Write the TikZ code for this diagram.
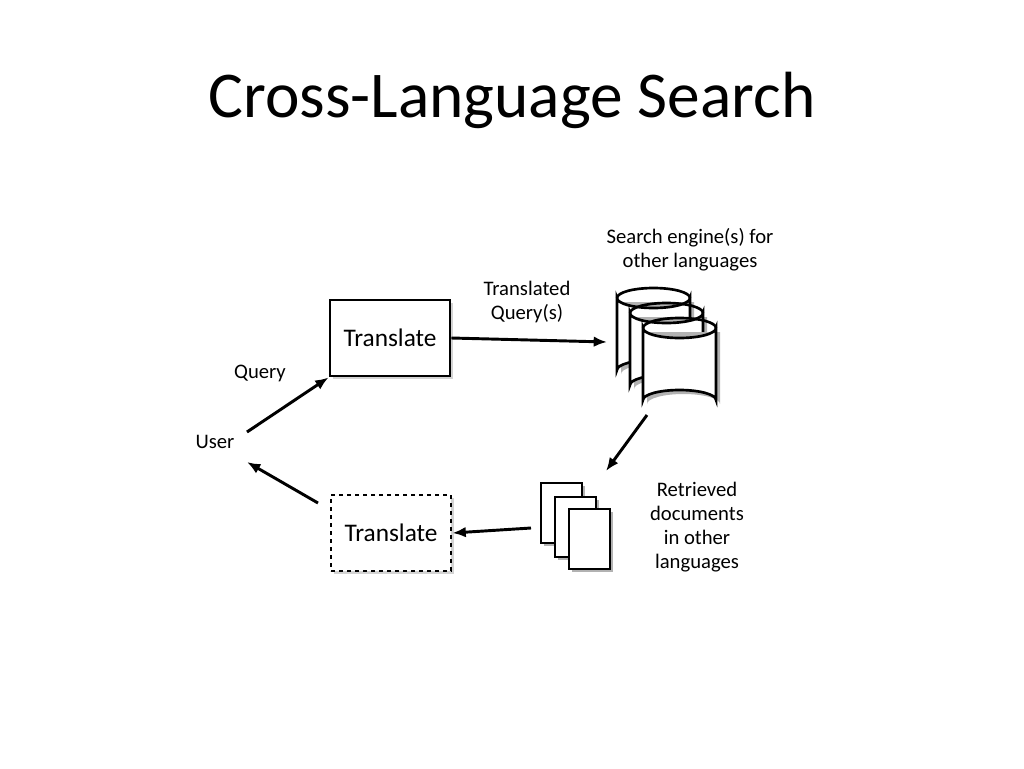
\documentclass[tikz,border=0pt]{standalone}
\usepackage{fontspec}
\setmainfont{Carlito}
\usetikzlibrary{shadows,arrows.meta}
\begin{document}
\begin{tikzpicture}[x=0.75pt,y=-0.75pt,
  sh/.style={drop shadow={shadow xshift=2.5pt,shadow yshift=-2.5pt,opacity=0.35}},
  box/.style={draw,line width=2.2pt,fill=white,sh,minimum width=90pt,minimum height=57pt,font=\fontsize{19}{21}\selectfont},
  lbl/.style={font=\fontsize{15.5}{18}\selectfont,align=center},
  arr/.style={-{Latex[length=10pt,width=8pt]},line width=2.2pt},
  cyl/.style={draw,line width=2pt,fill=white},
  pg/.style={draw,line width=1.8pt,fill=white}]
\useasboundingbox (0,0) rectangle (1024,768);
\node at (512,100) {\fontsize{49}{56}\selectfont Cross-Language Search};
\node[box] (t1) at (390,338) {Translate};
\node[box,dashed,drop shadow={opacity=0}] (t2) at (391,533) {Translate};
\foreach \x/\y/\n in {617/288/a,630/303/b,643/318/c}{
  \fill[black!30] (\x+4,\y+14) -- (\x+4,\y+86) arc[start angle=180,end angle=360,x radius=36.5,y radius=10] -- (\x+77,\y+14) -- cycle;
  \path[cyl] (\x,\y+10) -- (\x,\y+82) arc[start angle=180,end angle=360,x radius=36.5,y radius=10] -- (\x+73,\y+10) arc[start angle=0,end angle=180,x radius=36.5,y radius=10] -- cycle;
  \draw[line width=2pt] (\x,\y+10) arc[start angle=180,end angle=360,x radius=36.5,y radius=10];
  \coordinate (\n) at (\x+36,\y+50);
}
\coordinate (cyl) at (607,342);
\foreach \x/\y in {541/483,555/497,569/509}{
  \fill[black!30] (\x+3,\y+3) rectangle (\x+44,\y+63);
  \path[pg] (\x,\y) rectangle (\x+41,\y+60);
}
\coordinate (docin) at (606,471);
\coordinate (docout) at (531,528);
\coordinate (cylout) at (647,415);
\node[lbl] (user) at (215,442) {User};
\node[lbl] at (260,373) {Query};
\node[lbl] at (527,302) {Translated\\Query(s)};
\node[lbl] at (690,250) {Search engine(s) for\\other languages};
\node[lbl] at (697,527) {Retrieved\\documents\\in other\\languages};
\draw[arr] (t1.east) -- (cyl);
\draw[arr] (cylout) -- (docin);
\draw[arr] (docout) -- (t2.east);
\draw[arr] (318,503) -- (247,462);
\draw[arr] (247,432) -- (t1.south west);
\end{tikzpicture}
\end{document}
